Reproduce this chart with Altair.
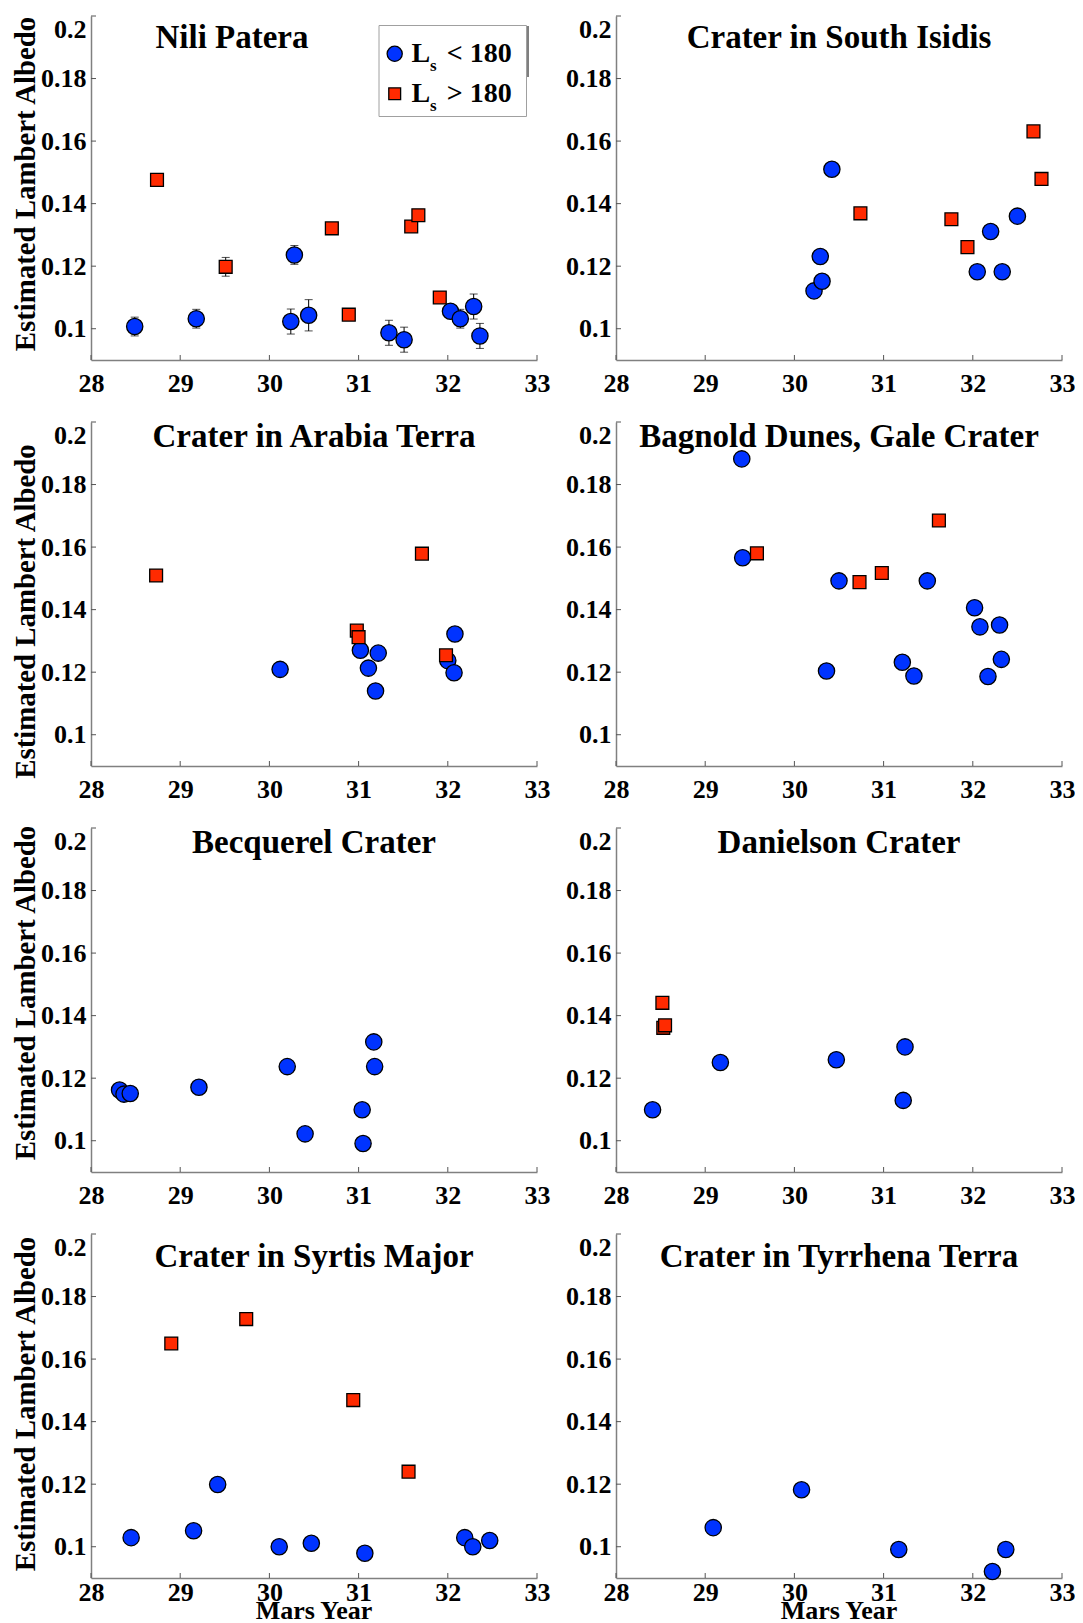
import altair as alt
import pandas as pd

# ---------------- data ----------------
YEAR_TICKS = [28, 29, 30, 31, 32, 33]
ALBEDO_TICKS = [0.1, 0.12, 0.14, 0.16, 0.18, 0.2]
LEGEND_LABELS = ["< 180", "> 180"]

TITLES = [
    "Nili Patera", "Crater in South Isidis",
    "Crater in Arabia Terra", "Bagnold Dunes, Gale Crater",
    "Becquerel Crater", "Danielson Crater",
    "Crater in Syrtis Major", "Crater in Tyrrhena Terra",
]

NILI_BLUE_X = [28.49, 29.18, 30.24, 30.28, 30.44, 31.34, 31.51, 32.03, 32.14, 32.29, 32.36]
NILI_BLUE_Y = [0.1007, 0.1032, 0.1023, 0.1236, 0.1043, 0.0987, 0.0965, 0.1056, 0.1032, 0.1071, 0.0977]
NILI_BLUE_ERR = [0.003, 0.003, 0.004, 0.003, 0.005, 0.004, 0.004, 0.002, 0.003, 0.004, 0.004]
NILI_RED_X = [28.74, 29.51, 30.70, 30.89, 31.59, 31.67, 31.91]
NILI_RED_Y = [0.1476, 0.1198, 0.1321, 0.1045, 0.1327, 0.1363, 0.1100]
NILI_RED_ERR = [0.001, 0.003, 0.001, 0.001, 0.001, 0.001, 0.001]

ISIDIS_BLUE_X = [30.22, 30.31, 30.29, 30.42, 32.05, 32.20, 32.33, 32.50]
ISIDIS_BLUE_Y = [0.1121, 0.1152, 0.1231, 0.1510, 0.1182, 0.1311, 0.1182, 0.1360]
ISIDIS_RED_X = [30.74, 31.76, 31.94, 32.68, 32.77]
ISIDIS_RED_Y = [0.1369, 0.1350, 0.1261, 0.1631, 0.1479]

ARABIA_BLUE_X = [30.12, 31.02, 31.11, 31.22, 31.19, 32.00, 32.08, 32.07]
ARABIA_BLUE_Y = [0.1209, 0.1270, 0.1213, 0.1261, 0.1140, 0.1237, 0.1322, 0.1198]
ARABIA_RED_X = [28.73, 30.98, 31.00, 31.71, 31.98]
ARABIA_RED_Y = [0.1509, 0.1333, 0.1312, 0.1579, 0.1254]

BAGNOLD_BLUE_X = [29.41, 29.42, 30.36, 30.50, 31.21, 31.34, 31.49, 32.02, 32.08, 32.30, 32.32, 32.17]
BAGNOLD_BLUE_Y = [0.1882, 0.1566, 0.1204, 0.1492, 0.1232, 0.1188, 0.1492, 0.1406, 0.1345, 0.1351, 0.1241, 0.1186]
BAGNOLD_RED_X = [29.58, 30.73, 30.98, 31.62]
BAGNOLD_RED_Y = [0.1580, 0.1488, 0.1517, 0.1685]

BECQ_BLUE_X = [28.32, 28.37, 28.44, 29.21, 30.20, 30.40, 31.04, 31.05, 31.17, 31.18]
BECQ_BLUE_Y = [0.1162, 0.1149, 0.1151, 0.1171, 0.1237, 0.1022, 0.1099, 0.0991, 0.1316, 0.1237]
BECQ_RED_X = []
BECQ_RED_Y = []

DANI_BLUE_X = [28.41, 29.17, 30.47, 31.24, 31.22]
DANI_BLUE_Y = [0.1099, 0.1250, 0.1259, 0.1300, 0.1129]
DANI_RED_X = [28.52, 28.53, 28.55]
DANI_RED_Y = [0.1441, 0.1361, 0.1369]

SYRTIS_BLUE_X = [28.45, 29.15, 29.42, 30.11, 30.47, 31.07, 32.19, 32.28, 32.47]
SYRTIS_BLUE_Y = [0.1029, 0.1051, 0.1199, 0.1000, 0.1011, 0.0979, 0.1029, 0.1000, 0.1020]
SYRTIS_RED_X = [28.90, 29.74, 30.94, 31.56]
SYRTIS_RED_Y = [0.1650, 0.1728, 0.1469, 0.1240]

TYRR_BLUE_X = [29.09, 30.08, 31.17, 32.22, 32.37]
TYRR_BLUE_Y = [0.1061, 0.1182, 0.0991, 0.0921, 0.0991]
TYRR_RED_X = []
TYRR_RED_Y = []

# ---------------- style ----------------
BLUE = "#0033ff"
RED = "#ff2a00"
W, H = 446, 344
FONT = "Liberation Serif"
AXIS_GRAY = "#808080"

xs = alt.Scale(domain=[28, 33], nice=False, zero=False)
ys = alt.Scale(domain=[0.09, 0.2], nice=False, zero=False)

axis_common = dict(
    domainColor=AXIS_GRAY, domainWidth=1.5, ticks=True, tickSize=0, grid=False,
    labelFont=FONT, labelFontWeight="bold", labelFontSize=26, labelColor="black",
    titleFont=FONT, titleFontWeight="bold", titleColor="black", labelOverlap=False,
)

YTITLE_SHIFT = {0: -4.5, 1: 17, 2: -7.5, 3: -2.5}


def one():
    return alt.Data(values=[{"a": 1}])


def panel(idx, bx, by, rx, ry, berr=None, rerr=None, legend=False):
    row, col = divmod(idx, 2)
    title = TITLES[idx]
    xaxis = alt.Axis(values=YEAR_TICKS, format="d", labelFlush=False,
                     labelPadding=(1 if row == 3 else 10), **axis_common)
    yaxis = alt.Axis(values=ALBEDO_TICKS, format="~g", labelFlush=True,
                     labelPadding=5, titleFontSize=28.8, titlePadding=0,
                     titleY=H / 2 + YTITLE_SHIFT[row], **axis_common)
    ytitle = "Estimated Lambert Albedo" if col == 0 else None

    def X(f):
        return alt.X(f, type="quantitative", scale=xs, axis=xaxis, title=None)

    def Y(f):
        return alt.Y(f, type="quantitative", scale=ys, axis=yaxis, title=ytitle)

    layers = []
    xt = alt.Chart(alt.Data(values=[{"t": v} for v in YEAR_TICKS])).mark_rule(
        color="#555555", strokeWidth=1).encode(x=X("t"), y=alt.value(H), y2=alt.value(H - 5))
    yt = alt.Chart(alt.Data(values=[{"t": v} for v in ALBEDO_TICKS])).mark_rule(
        color="#555555", strokeWidth=1).encode(y=Y("t"), x=alt.value(0), x2=alt.value(5))
    layers += [xt, yt]

    blue = pd.DataFrame({"year": bx, "albedo": by})
    red = pd.DataFrame({"year": rx, "albedo": ry})

    for df, err in ((blue, berr), (red, rerr)):
        if err is not None and len(df):
            e = df.copy()
            e["lo"] = [a - d for a, d in zip(df["albedo"], err)]
            e["hi"] = [a + d for a, d in zip(df["albedo"], err)]
            layers.append(alt.Chart(e).mark_rule(color="black", strokeWidth=1).encode(
                x=X("year"), y=Y("lo"), y2="hi"))
            for f in ("lo", "hi"):
                layers.append(alt.Chart(e).mark_tick(
                    orient="horizontal", color="black", size=8, thickness=1).encode(
                    x=X("year"), y=Y(f)))

    if len(blue):
        layers.append(alt.Chart(blue).mark_point(
            shape="circle", filled=True, fill=BLUE, stroke="black", strokeWidth=1.3,
            size=265, opacity=1).encode(x=X("year"), y=Y("albedo")))
    if len(red):
        layers.append(alt.Chart(red).mark_point(
            shape="square", filled=True, fill=RED, stroke="black", strokeWidth=1.3,
            size=165, opacity=1).encode(x=X("year"), y=Y("albedo")))

    # hide the frame on the top and right edges (the reference has only left/bottom axes)
    layers.append(alt.Chart(one()).mark_rule(color="white", strokeWidth=3).encode(
        x=alt.value(7), x2=alt.value(W + 1.5), y=alt.value(1.5)))
    layers.append(alt.Chart(one()).mark_rule(color="white", strokeWidth=3).encode(
        x=alt.value(W), y=alt.value(1.5), y2=alt.value(H - 7)))

    ty = {0: 31.5, 1: 24.5, 2: 24.5, 3: 33}[row]
    tx = 141 if idx == 0 else W / 2
    layers.append(alt.Chart(alt.Data(values=[{"name": title}])).mark_text(
        font=FONT, fontWeight="bold", fontSize=33, color="black",
        align="center", baseline="alphabetic").encode(
        x=alt.value(tx), y=alt.value(ty), text="name:N"))

    if row == 3:
        layers.append(alt.Chart(alt.Data(values=[{"name": "Mars Year"}])).mark_text(
            font=FONT, fontWeight="bold", fontSize=26, color="black",
            align="center", baseline="alphabetic").encode(
            x=alt.value(W / 2), y=alt.value(H + 41), text="name:N"))

    if legend:
        layers.append(alt.Chart(one()).mark_rect(
            fill="white", stroke="#a0a0a0", strokeWidth=1).encode(
            x=alt.value(288), x2=alt.value(435.5), y=alt.value(9.5), y2=alt.value(100.5)))
        layers.append(alt.Chart(one()).mark_rule(
            color="#555555", strokeWidth=1.5).encode(
            x=alt.value(437), y=alt.value(10), y2=alt.value(61)))
        layers.append(alt.Chart(one()).mark_point(
            shape="circle", filled=True, fill=BLUE, stroke="black", strokeWidth=1.3,
            size=230, opacity=1).encode(x=alt.value(303.7), y=alt.value(37.8)))
        layers.append(alt.Chart(one()).mark_point(
            shape="square", filled=True, fill=RED, stroke="black", strokeWidth=1.3,
            size=140, opacity=1).encode(x=alt.value(303.7), y=alt.value(77.8)))
        for i, lab in enumerate(LEGEND_LABELS):
            dy = 40 * i
            for txt, xx, yy, fs in (("L", 320.4, 46.2, 28), ("s", 339.0, 54.5, 17),
                                    (lab, 355.7, 46.2, 28)):
                layers.append(alt.Chart(alt.Data(values=[{"t": txt}])).mark_text(
                    font=FONT, fontWeight="bold", fontSize=fs, color="black",
                    align="left", baseline="alphabetic").encode(
                    x=alt.value(xx), y=alt.value(yy + dy), text="t:N"))

    return alt.layer(*layers).properties(
        width=W, height=H, view=alt.ViewBackground(stroke=None))


panels = [
    panel(0, NILI_BLUE_X, NILI_BLUE_Y, NILI_RED_X, NILI_RED_Y, NILI_BLUE_ERR, NILI_RED_ERR, legend=True),
    panel(1, ISIDIS_BLUE_X, ISIDIS_BLUE_Y, ISIDIS_RED_X, ISIDIS_RED_Y),
    panel(2, ARABIA_BLUE_X, ARABIA_BLUE_Y, ARABIA_RED_X, ARABIA_RED_Y),
    panel(3, BAGNOLD_BLUE_X, BAGNOLD_BLUE_Y, BAGNOLD_RED_X, BAGNOLD_RED_Y),
    panel(4, BECQ_BLUE_X, BECQ_BLUE_Y, BECQ_RED_X, BECQ_RED_Y),
    panel(5, DANI_BLUE_X, DANI_BLUE_Y, DANI_RED_X, DANI_RED_Y),
    panel(6, SYRTIS_BLUE_X, SYRTIS_BLUE_Y, SYRTIS_RED_X, SYRTIS_RED_Y),
    panel(7, TYRR_BLUE_X, TYRR_BLUE_Y, TYRR_RED_X, TYRR_RED_Y),
]

chart = alt.concat(*panels, columns=2, spacing={"row": 62, "column": 79}, bounds="flush").properties(
    padding={"left": 3, "top": 7, "right": 0, "bottom": 0}
).configure(background="white").configure_view(stroke=None)

chart.save("out.html", embed_options={"renderer": "svg", "actions": False})
